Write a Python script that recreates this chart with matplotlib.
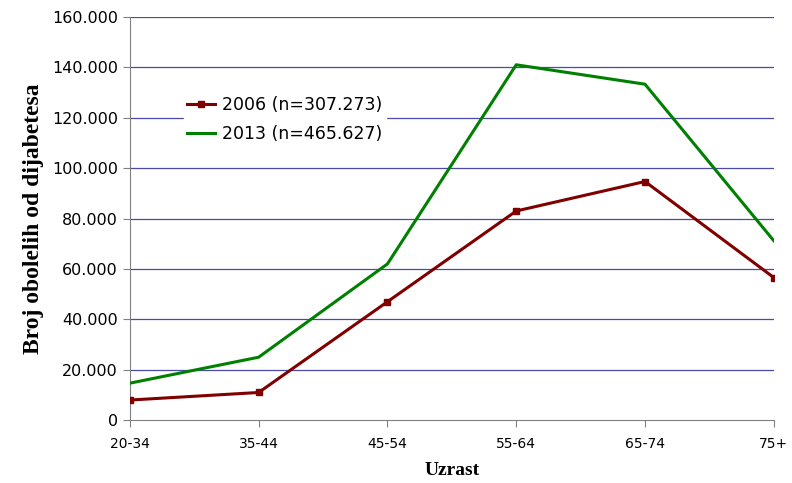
import matplotlib.pyplot as plt

# podaci
uzrast = ['20-34', '35-44', '45-54', '55-64', '65-74', '75+']
god_2006 = [8000, 11000, 47000, 83000, 94700, 56600]
god_2013 = [14700, 25000, 62000, 141000, 133300, 71200]
yticks = [0, 20000, 40000, 60000, 80000, 100000, 120000, 140000, 160000]
ytick_labels = ['0', '20.000', '40.000', '60.000', '80.000', '100.000',
                '120.000', '140.000', '160.000']

fig = plt.figure(figsize=(7.92, 4.83), dpi=100)
ax = fig.add_axes([0.164, 0.130, 0.813, 0.835])

x = range(len(uzrast))
ax.plot(x, god_2006, color='#800000', lw=2.2, marker='s', markersize=4,
        label='2006 (n=307.273)', zorder=3)
ax.plot(x, god_2013, color='#008000', lw=2.2, label='2013 (n=465.627)', zorder=3)

ax.set_xlim(0, 5)
ax.set_ylim(0, 160000)
ax.set_yticks(yticks)
ax.set_yticklabels(ytick_labels, fontsize=11.5)
ax.set_xticks(list(x))
ax.set_xticklabels(uzrast, fontsize=10)

for v in yticks[1:]:
    ax.axhline(v, color='#4a4aa8', lw=0.9, zorder=1)

for s in ['top', 'right']:
    ax.spines[s].set_visible(False)
ax.spines['left'].set_color('#808080')
ax.spines['bottom'].set_color('#808080')
ax.tick_params(axis='both', direction='out', length=5, color='#808080')
ax.tick_params(axis='x', pad=7)

ax.set_ylabel('Broj obolelih od dijabetesa', family='Liberation Serif',
              fontweight='bold', fontsize=17, labelpad=6)
ax.set_xlabel('Uzrast', family='Liberation Serif', fontweight='bold',
              fontsize=14, labelpad=8)

leg = ax.legend(loc='upper left', bbox_to_anchor=(0.07, 0.835), frameon=True,
                fontsize=12.5, handlelength=1.6, handletextpad=0.4,
                borderpad=0.2, labelspacing=0.65)
leg.get_frame().set_edgecolor('white')
leg.get_frame().set_facecolor('white')
leg.get_frame().set_alpha(1)

fig.savefig('out.png', dpi=100)
